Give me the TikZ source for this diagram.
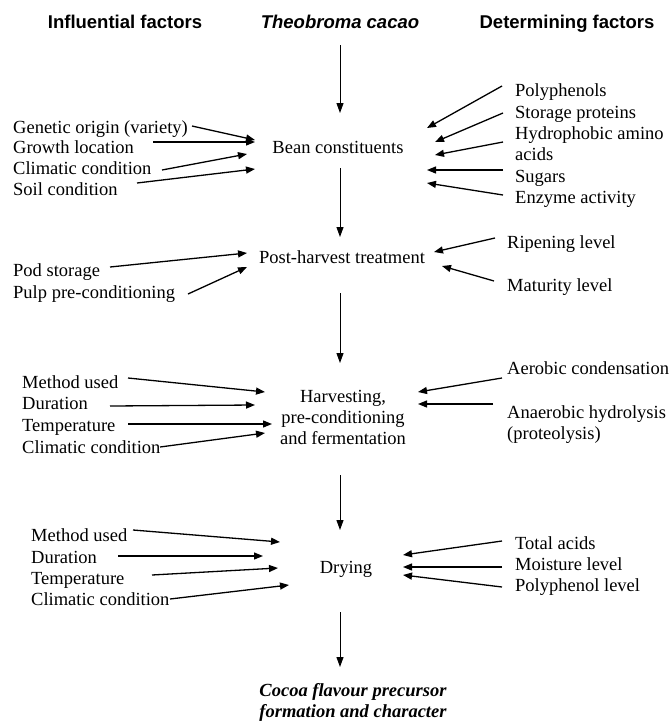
\documentclass[tikz,border=0pt]{standalone}
\usepackage{fontspec}
\setmainfont{Liberation Serif}
\newfontfamily\hdfont{Liberation Sans}
\usetikzlibrary{arrows.meta}
\begin{document}
\begin{tikzpicture}[x=1pt,y=-1pt,
  txt/.style={inner sep=0pt, font=\fontsize{18.5}{20.7}\selectfont},
  lbl/.style={txt, anchor=base west},
  mlbl/.style={txt, anchor=north west, align=left},
  ctr/.style={txt, anchor=base},
  hdr/.style={anchor=base, inner sep=0pt, font=\hdfont\bfseries\fontsize{18.5}{20.7}\selectfont},
  arr/.style={line width=1.3pt, -{Triangle[length=9pt,width=7pt]}},
  varr/.style={line width=1pt, -{Triangle[length=10pt,width=7pt]}}]
\fill[white] (0,0) rectangle (670,721);
\useasboundingbox (0,0) rectangle (670,721);

% headers
\node[hdr] (hinf) at (125,28) {Influential factors};
\node[hdr, font=\hdfont\bfseries\itshape\fontsize{18.5}{20.7}\selectfont] (theo) at (340,28) {Theobroma cacao};
\node[hdr] (hdet) at (567,28) {Determining factors};

% main chain
\node[ctr] (bean) at (338,153) {Bean constituents};
\node[ctr] (post) at (342,263) {Post-harvest treatment};
\node[txt, anchor=north, align=center] (harv) at (343,390.5) {Harvesting,\\pre-conditioning\\and fermentation};
\node[ctr] (dry) at (346,573) {Drying};
\node[txt, anchor=north, align=center, font=\bfseries\itshape\fontsize{18.5}{20.5}\selectfont] (cocoa) at (353,683.5) {Cocoa flavour precursor\\formation and character};

\coordinate (v1s) at (340,45);  \coordinate (v1e) at (340,113);
\coordinate (v2s) at (340,168); \coordinate (v2e) at (340,237);
\coordinate (v3s) at (340,293); \coordinate (v3e) at (340,363);
\coordinate (v4s) at (340,475); \coordinate (v4e) at (340,530);
\coordinate (v5s) at (340,612); \coordinate (v5e) at (340,667);
\draw[varr] (v1s) -- (v1e);
\draw[varr] (v2s) -- (v2e);
\draw[varr] (v3s) -- (v3e);
\draw[varr] (v4s) -- (v4e);
\draw[varr] (v5s) -- (v5e);

% section 1 left
\node[lbl] (l11) at (13,133) {Genetic origin (variety)};
\node[lbl] (l12) at (13,153) {Growth location};
\node[lbl] (l13) at (13,174) {Climatic condition};
\node[lbl] (l14) at (13,195) {Soil condition};
\coordinate (a11s) at (192,126); \coordinate (a11e) at (255,140);
\coordinate (a12s) at (153,142); \coordinate (a12e) at (255,142);
\coordinate (a13s) at (162,170); \coordinate (a13e) at (247,154);
\coordinate (a14s) at (137,183); \coordinate (a14e) at (255,169);
\draw[arr] (a11s) -- (a11e);
\draw[arr] (a12s) -- (a12e);
\draw[arr] (a13s) -- (a13e);
\draw[arr] (a14s) -- (a14e);

% section 1 right
\node[lbl] (r11) at (515,96) {Polyphenols};
\node[lbl] (r12) at (515,118) {Storage proteins};
\node[mlbl] (r13) at (515,126.4) {Hydrophobic amino\\acids};
\node[lbl] (r14) at (515,182) {Sugars};
\node[lbl] (r15) at (515,203) {Enzyme activity};
\coordinate (b11s) at (502,86);  \coordinate (b11e) at (427,128);
\coordinate (b12s) at (503,113); \coordinate (b12e) at (435,142);
\coordinate (b13s) at (503,142); \coordinate (b13e) at (435,155);
\coordinate (b14s) at (503,170); \coordinate (b14e) at (427,170);
\coordinate (b15s) at (503,195); \coordinate (b15e) at (427,183);
\draw[arr] (b11s) -- (b11e);
\draw[arr] (b12s) -- (b12e);
\draw[arr] (b13s) -- (b13e);
\draw[arr] (b14s) -- (b14e);
\draw[arr] (b15s) -- (b15e);

% section 2
\node[lbl] (l21) at (13,276) {Pod storage};
\node[lbl] (l22) at (13,298) {Pulp pre-conditioning};
\coordinate (a21s) at (110,267); \coordinate (a21e) at (247,253);
\coordinate (a22s) at (188,294); \coordinate (a22e) at (247,267);
\draw[arr] (a21s) -- (a21e);
\draw[arr] (a22s) -- (a22e);
\node[lbl] (r21) at (507,248) {Ripening level};
\node[lbl] (r22) at (507,291) {Maturity level};
\coordinate (b21s) at (495,238); \coordinate (b21e) at (434,252);
\coordinate (b22s) at (494,281); \coordinate (b22e) at (442,266);
\draw[arr] (b21s) -- (b21e);
\draw[arr] (b22s) -- (b22e);

% section 3
\node[lbl] (l31) at (22,388) {Method used};
\node[lbl] (l32) at (22,409) {Duration};
\node[lbl] (l33) at (22,431) {Temperature};
\node[lbl] (l34) at (22,453) {Climatic condition};
\coordinate (a31s) at (128,378); \coordinate (a31e) at (265,392);
\coordinate (a32s) at (110,406); \coordinate (a32e) at (255,405);
\coordinate (a33s) at (128,424); \coordinate (a33e) at (272,424);
\coordinate (a34s) at (160,447); \coordinate (a34e) at (265,433);
\draw[arr] (a31s) -- (a31e);
\draw[arr] (a32s) -- (a32e);
\draw[arr] (a33s) -- (a33e);
\draw[arr] (a34s) -- (a34e);
\node[lbl] (r31) at (507,374) {Aerobic condensation};
\node[mlbl] (r32) at (507,405.4) {Anaerobic hydrolysis\\(proteolysis)};
\coordinate (b31s) at (502,378); \coordinate (b31e) at (418,392);
\coordinate (b32s) at (493,404); \coordinate (b32e) at (418,404);
\draw[arr] (b31s) -- (b31e);
\draw[arr] (b32s) -- (b32e);

% section 4
\node[lbl] (l41) at (31,541) {Method used};
\node[lbl] (l42) at (31,563) {Duration};
\node[lbl] (l43) at (31,584) {Temperature};
\node[lbl] (l44) at (31,605) {Climatic condition};
\coordinate (a41s) at (133,530); \coordinate (a41e) at (280,542);
\coordinate (a42s) at (118,556); \coordinate (a42e) at (263,556);
\coordinate (a43s) at (152,575); \coordinate (a43e) at (278,568);
\coordinate (a44s) at (170,599); \coordinate (a44e) at (289,585);
\draw[arr] (a41s) -- (a41e);
\draw[arr] (a42s) -- (a42e);
\draw[arr] (a43s) -- (a43e);
\draw[arr] (a44s) -- (a44e);
\node[lbl] (r41) at (515,549) {Total acids};
\node[lbl] (r42) at (515,570) {Moisture level};
\node[lbl] (r43) at (515,591) {Polyphenol level};
\coordinate (b41s) at (502,541); \coordinate (b41e) at (403,555);
\coordinate (b42s) at (502,567); \coordinate (b42e) at (403,567);
\coordinate (b43s) at (502,587); \coordinate (b43e) at (403,575);
\draw[arr] (b41s) -- (b41e);
\draw[arr] (b42s) -- (b42e);
\draw[arr] (b43s) -- (b43e);
\end{tikzpicture}
\end{document}
